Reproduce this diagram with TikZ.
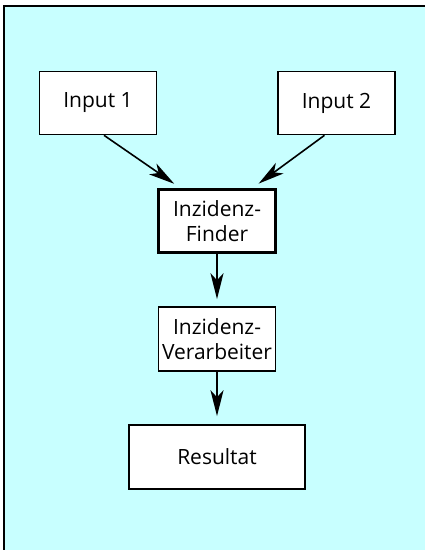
\documentclass[tikz,border=0pt]{standalone}
\usepackage{fontspec}
\setmainfont{Open Sans}
\usepackage{xcolor}
\usepackage{tikz}
\usetikzlibrary{arrows.meta, positioning, calc}
\definecolor{bgcyan}{HTML}{C8FFFF}
\tikzstyle{box} = [rectangle, minimum width=117pt, minimum height=63pt, align=center, text centered, draw=black, line width=1.6pt, fill=white, inner sep=0pt, font=\fontsize{21}{24.5}\selectfont]
\tikzstyle{finderbox} = [box, line width=3.5pt]
\tikzstyle{arrow} = [line width=1.6pt, -{Stealth[length=26pt, width=13pt, inset=7pt]}]

\begin{document}
\begin{tikzpicture}[x=1pt, y=1pt, node distance=118pt]
    \useasboundingbox (0,0) rectangle (425,-550);
    \clip (0,0) rectangle (425,-550);
    \draw [fill=bgcyan, line width=1.8pt] (4,-6) rectangle (440,-570);

    \node (finder) [finderbox] at (217,-221) {Inzidenz-\\Finder};
    \node (in1) [box, above of=finder, xshift=-119pt] {Input 1};
    \node (in2) [box, above of=finder, xshift=119.5pt] {Input 2};
    \node (verarb) [box, below of=finder, minimum height=64pt] {Inzidenz-\\Verarbeiter};
    \node (result) [box, below of=verarb, minimum width=176pt, minimum height=64pt] {Resultat};

    \draw [arrow, shorten >=7pt] ([xshift=6pt]in1.south) -- ([xshift=-37pt]finder.north);
    \draw [arrow, shorten >=7pt] ([xshift=-12pt]in2.south) -- ([xshift=36pt]finder.north);
    \draw [arrow, shorten >=7pt] (finder) -- (verarb);
    \draw [arrow, shorten >=8pt] (verarb) -- (result);
\end{tikzpicture}
\end{document}
